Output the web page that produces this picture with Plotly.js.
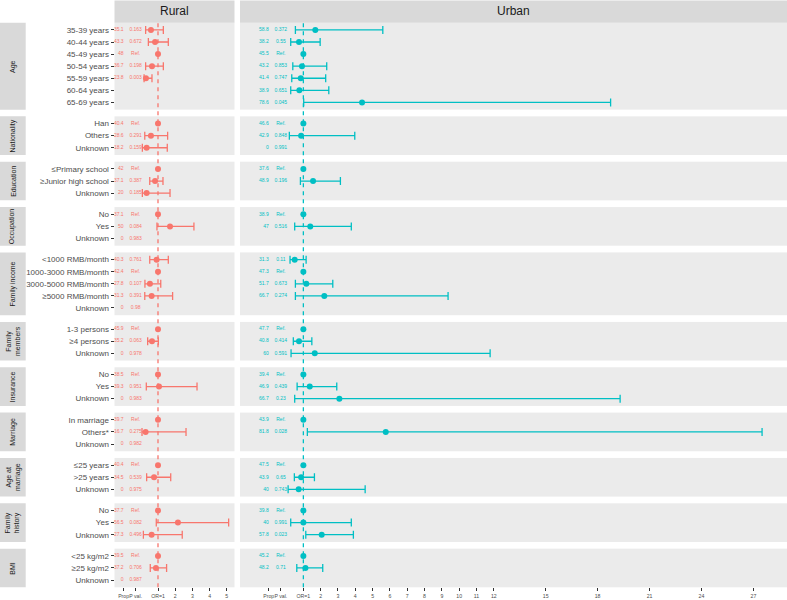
<!DOCTYPE html>
<html><head><meta charset="utf-8">
<script src="https://cdn.plot.ly/plotly-3.0.1.min.js"></script>
<style>html,body{margin:0;padding:0;background:#fff}#chart{width:787px;height:600px}</style>
</head><body><div id="chart"></div>
<script>
// ---------- data ----------
const groupStrip = ['Age','Nationality','Education','Occupation','Family income','Family<br>members','Insurance','Marriage','Age at<br>marriage','Family<br>history','BMI'];
const groupSizes = [7,3,3,3,5,3,3,3,3,3,3];
const rowLabels = [
  '35-39 years','40-44 years','45-49 years','50-54 years','55-59 years','60-64 years','65-69 years',
  'Han','Others','Unknown',
  '≤Primary school','≥Junior high school','Unknown',
  'No','Yes','Unknown',
  '<1000 RMB/month','1000-3000 RMB/month','3000-5000 RMB/month','≥5000 RMB/month','Unknown',
  '1-3 persons','≥4 persons','Unknown',
  'No','Yes','Unknown',
  'In marriage','Others*','Unknown',
  '≤25 years','>25 years','Unknown',
  'No','Yes','Unknown',
  '<25 kg/m2','≥25 kg/m2','Unknown'
];
const ruralProp = [35.1,43.3,48,36.7,23.8,null,null, 40.4,28.6,18.2, 42,37.1,20, 37.1,50,0, 40.3,42.4,27.8,31.3,0, 45.9,35.2,0, 38.5,39.3,0, 39.7,16.7,0, 40.4,34.5,0, 37.7,56.5,27.3, 39.5,37.2,0];
const ruralP = ['0.163','0.672','Ref.','0.198','0.003',null,null, 'Ref.','0.291','0.159', 'Ref.','0.387','0.185', 'Ref.','0.084','0.983', '0.761','Ref.','0.107','0.391','0.98', 'Ref.','0.063','0.978', 'Ref.','0.951','0.983', 'Ref.','0.275','0.982', 'Ref.','0.539','0.975', 'Ref.','0.082','0.496', 'Ref.','0.706','0.987'];
const ruralOR = [0.59,0.83,1,0.65,0.30,null,null, 1,0.59,0.34, 1,0.83,0.34, 1,1.70,null, 0.92,1,0.53,0.63,null, 1,0.65,null, 1,1.06,null, 1,0.28,null, 1,0.77,null, 1,2.16,0.63, 1,0.88,null];
const ruralLo = [0.28,0.44,null,0.28,0.19,null,null, null,0.23,0.09, null,0.52,0.09, null,0.94,null, 0.52,null,0.24,0.23,null, null,0.40,null, null,0.32,null, null,0.07,null, null,0.34,null, null,0.90,0.15, null,0.55,null];
const ruralHi = [1.31,1.60,null,1.31,0.65,null,null, null,1.56,1.54, null,1.29,1.70, null,3.09,null, 1.60,null,1.16,1.85,null, null,1.02,null, null,3.27,null, null,2.63,null, null,1.74,null, null,5.11,2.41, null,1.50,null];

const urbanProp = [58.8,38.2,45.5,43.2,41.4,38.9,78.6, 46.6,42.9,0, 37.6,48.9,null, 38.9,47,null, 31.3,47.3,51.7,66.7,null, 47.7,40.8,60, 39.4,46.9,66.7, 43.9,81.8,null, 47.5,43.9,40, 39.8,40,57.8, 45.2,48.2,null];
const urbanP = ['0.372','0.55','Ref.','0.853','0.747','0.651','0.045', 'Ref.','0.848','0.991', 'Ref.','0.196',null, 'Ref.','0.516',null, '0.11','Ref.','0.673','0.274',null, 'Ref.','0.414','0.591', 'Ref.','0.439','0.23', 'Ref.','0.028',null, 'Ref.','0.65','0.743', 'Ref.','0.991','0.023', 'Ref.','0.71',null];
const urbanOR = [1.69,0.75,1,0.92,0.85,0.77,4.39, 1,0.87,null, 1,1.56,null, 1,1.40,null, 0.50,1,1.17,2.21,null, 1,0.75,1.66, 1,1.37,3.08, 1,5.76,null, 1,0.87,0.73, 1,1.00,2.06, 1,1.12,null];
const urbanLo = [0.54,0.27,null,0.39,0.33,0.27,1.02, null,0.19,null, null,0.83,null, null,0.50,null, 0.23,null,0.54,0.54,null, null,0.42,0.29, null,0.64,0.50, null,1.23,null, null,0.48,0.12, null,0.27,1.14, null,0.62,null];
const urbanHi = [5.59,1.97,null,2.35,2.29,2.47,18.75, null,3.97,null, null,3.14,null, null,3.77,null, 1.16,null,2.70,9.36,null, null,1.49,11.79, null,2.93,19.3, null,27.5,null, null,1.64,4.57, null,3.77,3.89, null,2.12,null];

const ruralTicks = [-1,-0.3,1,2,3,4,5];
const ruralTickText = ['Prop','P val.','OR=1','2','3','4','5'];
const urbanTicks = [-1,-0.3,1,2,3,4,5,6,7,8,9,10,11,12,15,18,21,24,27];
const urbanTickText = ['Prop','P val.','OR=1','2','3','4','5','6','7','8','9','10','11','12','15','18','21','24','27'];

// ---------- layout geometry ----------
const W = 787, H = 600;
const FONT = 'Liberation Sans, Arial, sans-serif';
const panelTop = 22.7, panelBottom = 587.3, gap = 6.7;
const totalUnits = groupSizes.reduce((a, n) => a + n + 0.2, 0);
const unit = (panelBottom - panelTop - gap * (groupSizes.length - 1)) / totalUnits;
const domains = [];
let cursor = panelTop;
groupSizes.forEach(n => {
  const h = (n + 0.2) * unit;
  domains.push([1 - (cursor + h) / H, 1 - cursor / H]);
  cursor += h + gap;
});

const sites = [
  {name: 'Rural', color: '#F8766D', prop: ruralProp, p: ruralP, or: ruralOR, lo: ruralLo, hi: ruralHi,
   xa: 'x', key: 'xaxis', dom: [114.5 / W, 234.5 / W], range: [-1.53, 5.45], ticks: ruralTicks, tickText: ruralTickText},
  {name: 'Urban', color: '#00BFC4', prop: urbanProp, p: urbanP, or: urbanOR, lo: urbanLo, hi: urbanHi,
   xa: 'x2', key: 'xaxis2', dom: [240 / W, 1], range: [-2.66, 28.94], ticks: urbanTicks, tickText: urbanTickText}
];

const traces = [];
const layout = {
  width: W, height: H, margin: {l: 0, r: 0, t: 0, b: 0, pad: 0},
  paper_bgcolor: '#ffffff', plot_bgcolor: '#EBEBEB', showlegend: false,
  font: {family: FONT, color: '#4D4D4D'},
  shapes: [], annotations: []
};

let start = 0;
groupSizes.forEach((n, g) => {
  const yname = g === 0 ? 'y' : 'y' + (g + 1);
  const ykey = g === 0 ? 'yaxis' : 'yaxis' + (g + 1);
  const labels = rowLabels.slice(start, start + n);
  layout[ykey] = {
    domain: domains[g], anchor: 'x', range: [n - 0.4, -0.6],
    tickvals: labels.map((_, k) => k), ticktext: labels,
    ticks: 'outside', ticklen: 3, tickwidth: 1, tickcolor: '#333333',
    tickfont: {size: 8, color: '#4D4D4D', family: FONT},
    showgrid: false, zeroline: false, showline: false, automargin: false, fixedrange: true
  };
  sites.forEach(s => {
    const xs = [], ys = [], ep = [], em = [], pt = [], py = [], vt = [], vy = [];
    for (let k = 0; k < n; k++) {
      const i = start + k;
      if (s.or[i] != null) {
        xs.push(s.or[i]); ys.push(k);
        ep.push(s.hi[i] != null ? s.hi[i] - s.or[i] : NaN);
        em.push(s.lo[i] != null ? s.or[i] - s.lo[i] : NaN);
      }
      if (s.prop[i] != null) { pt.push(String(s.prop[i])); py.push(k); }
      if (s.p[i] != null) { vt.push(s.p[i]); vy.push(k); }
    }
    traces.push({
      type: 'scatter', mode: 'markers', x: xs, y: ys, xaxis: s.xa, yaxis: yname,
      marker: {color: s.color, size: 6},
      error_x: {type: 'data', symmetric: false, array: ep, arrayminus: em, color: s.color, thickness: 1.3, width: 4},
      hoverinfo: 'skip', cliponaxis: false
    });
    traces.push({
      type: 'scatter', mode: 'text', x: py.map(() => s.ticks[0]), y: py, text: pt, xaxis: s.xa, yaxis: yname,
      textposition: 'middle left', textfont: {size: 5, color: s.color, family: FONT}, hoverinfo: 'skip', cliponaxis: false
    });
    traces.push({
      type: 'scatter', mode: 'text', x: vy.map(() => s.ticks[1]), y: vy, text: vt, xaxis: s.xa, yaxis: yname,
      textposition: 'middle center', textfont: {size: 5, color: s.color, family: FONT}, hoverinfo: 'skip', cliponaxis: false
    });
  });
  // left strip
  layout.shapes.push({type: 'rect', xref: 'paper', yref: 'paper', x0: 0, x1: 25.7 / W, y0: domains[g][0], y1: domains[g][1],
    fillcolor: '#D9D9D9', line: {width: 0}, layer: 'below'});
  layout.annotations.push({xref: 'paper', yref: 'paper', x: 12.8 / W, y: (domains[g][0] + domains[g][1]) / 2,
    text: groupStrip[g], textangle: -90, showarrow: false, xanchor: 'center', yanchor: 'middle',
    font: {size: 7, color: '#1A1A1A', family: FONT}});
  start += n;
});

const last = 'y' + groupSizes.length;
sites.forEach(s => {
  layout[s.key] = {
    domain: s.dom, anchor: last, range: s.range,
    tickvals: s.ticks, ticktext: s.tickText, tickangle: 0,
    ticks: 'outside', ticklen: 3, tickwidth: 1, tickcolor: '#333333',
    tickfont: {size: 5.2, color: '#4D4D4D', family: FONT},
    showgrid: false, zeroline: false, showline: false, automargin: false, fixedrange: true
  };
  // top strip
  layout.shapes.push({type: 'rect', xref: 'paper', yref: 'paper', x0: s.dom[0], x1: s.dom[1], y0: domains[0][1], y1: 1 - 0.5 / H,
    fillcolor: '#D9D9D9', line: {width: 0}, layer: 'below'});
  layout.annotations.push({xref: 'paper', yref: 'paper', x: (s.dom[0] + s.dom[1]) / 2, y: (domains[0][1] + 1) / 2,
    text: s.name, showarrow: false, xanchor: 'center', yanchor: 'middle',
    font: {size: 12, color: '#1A1A1A', family: FONT}});
  // reference line OR = 1
  layout.shapes.push({type: 'line', xref: s.xa, yref: 'paper', x0: s.ticks[2], x1: s.ticks[2],
    y0: domains[domains.length - 1][0], y1: domains[0][1],
    line: {color: s.color, width: 1.3, dash: '4px,4px'}, layer: 'below'});
});

Plotly.newPlot('chart', traces, layout, {staticPlot: true, displayModeBar: false});
</script>
</body></html>
